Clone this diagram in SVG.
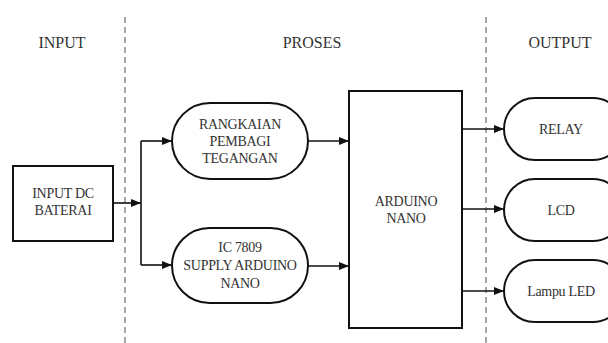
<svg xmlns="http://www.w3.org/2000/svg" width="608" height="343" viewBox="0 0 608 343">
<style>
  text { font-family: 'Liberation Serif', Tinos, 'Times New Roman', Times, 'DejaVu Serif', serif; fill: #333; text-anchor: middle; }
  .hdr { font-size: 16px; }
  .lbl { font-size: 14px; letter-spacing: -0.3px; }
  .shape { fill: #fff; stroke: #111; stroke-width: 2; }
  .conn { fill: none; stroke: #111; stroke-width: 1.6; }
  .sep { stroke: #777; stroke-width: 1.3; stroke-dasharray: 6 4; }
</style>
<defs>
  <marker id="arr" viewBox="0 0 10 8" refX="10" refY="4" markerWidth="10" markerHeight="8" markerUnits="userSpaceOnUse" orient="auto">
    <path d="M0,0 L10,4 L0,8 Z" fill="#111"/>
  </marker>
</defs>
<rect width="608" height="343" fill="#fff"/>
<g id="separators">
  <line class="sep" x1="125" y1="17" x2="125" y2="343"/>
  <line class="sep" x1="486" y1="17" x2="486" y2="343"/>
</g>
<g id="headers">
  <text class="hdr" x="62" y="48" font-family="Liberation Serif, serif">INPUT</text>
  <text class="hdr" x="312" y="48" font-family="Liberation Serif, serif">PROSES</text>
  <text class="hdr" x="560" y="48" font-family="Liberation Serif, serif">OUTPUT</text>
</g>
<g id="connectors">
  <line class="conn" x1="113" y1="203" x2="141" y2="203" marker-end="url(#arr)"/>
  <polyline class="conn" points="141,141 141,265"/>
  <line class="conn" x1="141" y1="141" x2="172" y2="141" marker-end="url(#arr)"/>
  <line class="conn" x1="141" y1="265" x2="172" y2="265" marker-end="url(#arr)"/>
  <line class="conn" x1="308" y1="141" x2="349" y2="141" marker-end="url(#arr)"/>
  <line class="conn" x1="308" y1="266" x2="349" y2="266" marker-end="url(#arr)"/>
  <line class="conn" x1="462" y1="129" x2="504" y2="129" marker-end="url(#arr)"/>
  <line class="conn" x1="462" y1="209" x2="504" y2="209" marker-end="url(#arr)"/>
  <line class="conn" x1="462" y1="291" x2="504" y2="291" marker-end="url(#arr)"/>
</g>
<g id="input-dc">
  <rect class="shape" x="13" y="166" width="100" height="75"/>
  <text class="lbl" x="63" y="198">INPUT DC</text>
  <text class="lbl" x="63" y="215">BATERAI</text>
</g>
<g id="rangkaian">
  <rect class="shape" x="172" y="103" width="136" height="76" rx="38"/>
  <text class="lbl" x="240" y="129">RANGKAIAN</text>
  <text class="lbl" x="240" y="146">PEMBAGI</text>
  <text class="lbl" x="240" y="163">TEGANGAN</text>
</g>
<g id="ic7809">
  <rect class="shape" x="172" y="228" width="136" height="75" rx="37.5"/>
  <text class="lbl" x="240" y="252">IC 7809</text>
  <text class="lbl" x="240" y="270">SUPPLY ARDUINO</text>
  <text class="lbl" x="240" y="288">NANO</text>
</g>
<g id="arduino">
  <rect class="shape" x="349" y="91" width="113" height="237"/>
  <text class="lbl" x="406" y="206">ARDUINO</text>
  <text class="lbl" x="406" y="223">NANO</text>
</g>
<g id="relay">
  <rect class="shape" x="504" y="98" width="120" height="62" rx="31"/>
  <text class="lbl" x="561" y="134">RELAY</text>
</g>
<g id="lcd">
  <rect class="shape" x="504" y="179" width="120" height="62" rx="31"/>
  <text class="lbl" x="561" y="215">LCD</text>
</g>
<g id="lampu-led">
  <rect class="shape" x="504" y="260" width="120" height="62" rx="31"/>
  <text class="lbl" x="561" y="296">Lampu LED</text>
</g>
</svg>
